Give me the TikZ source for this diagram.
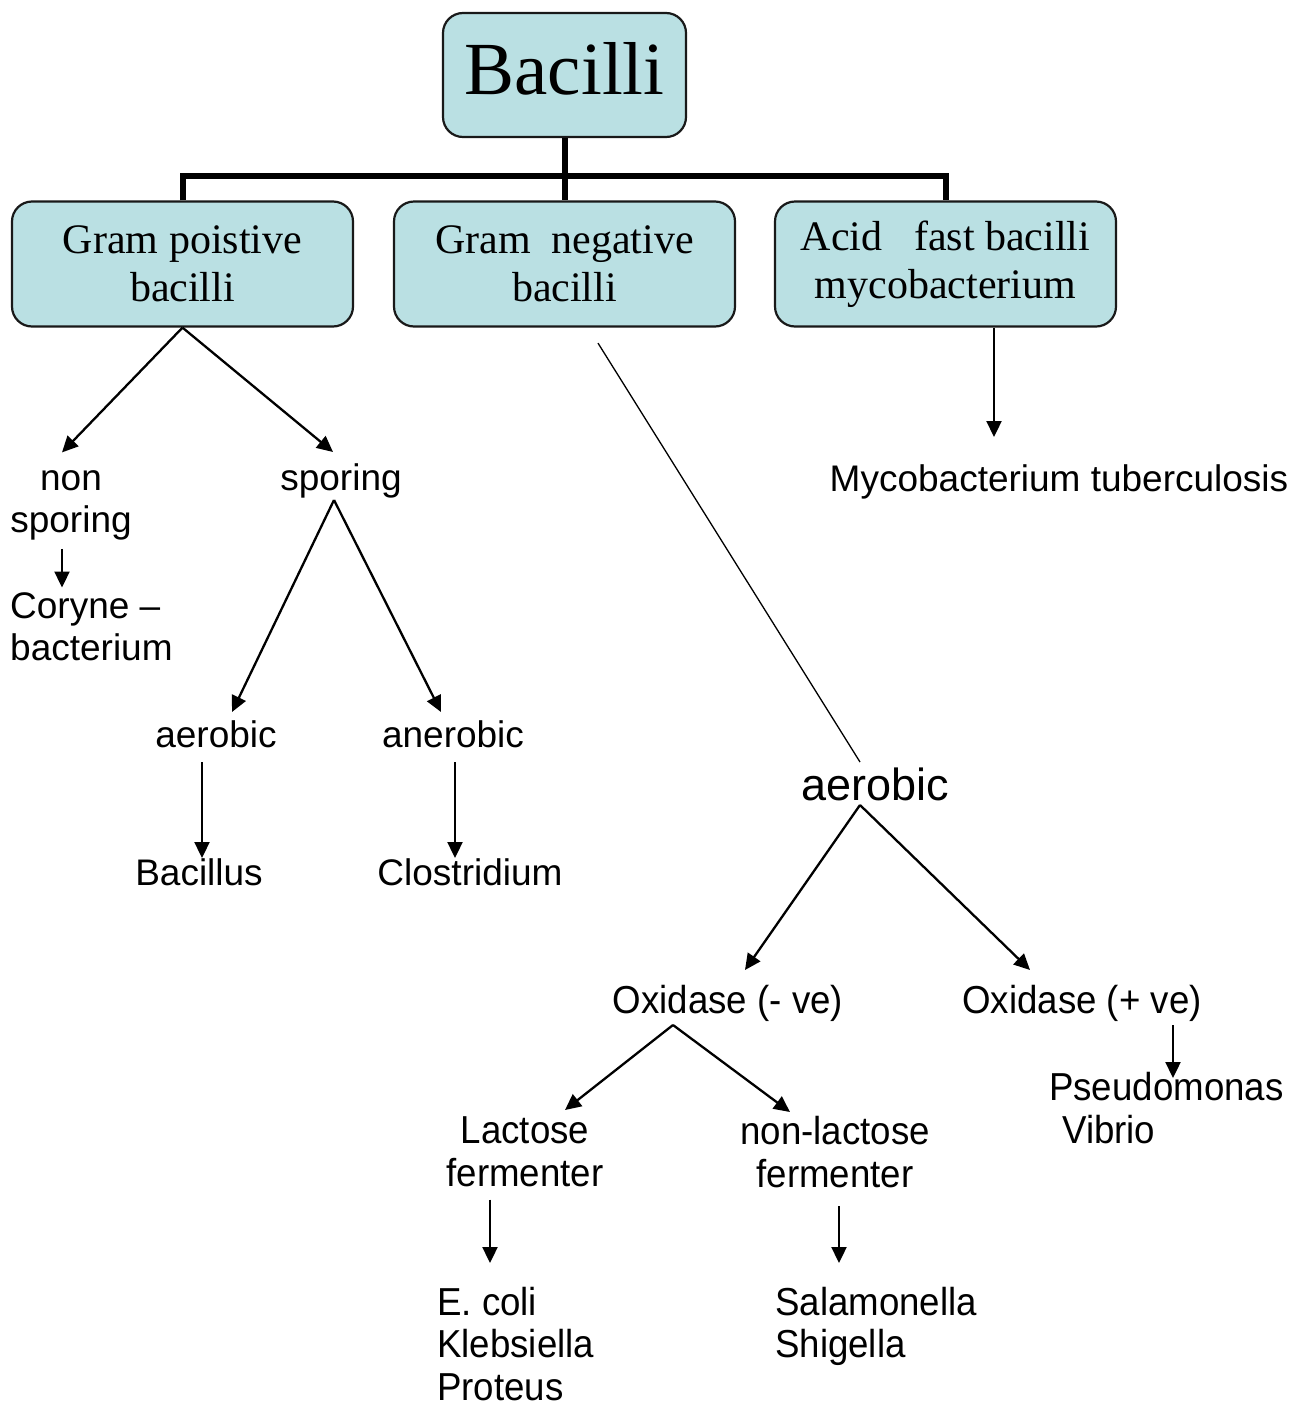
\documentclass[tikz,border=0pt]{standalone}
\usepackage{fontspec}
\setmainfont{Liberation Serif}
\setsansfont{Liberation Sans}
\newfontfamily\narrowsf[FakeStretch=0.94]{Liberation Sans}
\usetikzlibrary{arrows.meta}
\definecolor{boxfill}{RGB}{186,224,227}
\tikzset{
  box/.style={draw=black!90, line width=2.2pt, fill=boxfill, rounded corners=20pt,
    align=center, inner sep=0pt, minimum width=341pt, minimum height=125pt,
    font=\fontsize{42}{48}\selectfont},
  lab/.style={inner sep=0pt, font=\sffamily\fontsize{37}{41.5}\selectfont},
  nlab/.style={inner sep=0pt, font=\narrowsf\fontsize{39}{42.5}\selectfont},
  arr/.style={line width=2.3pt, -{Triangle[length=16pt,width=15pt]}},
  trunk/.style={line width=6pt},
  thinline/.style={line width=1.3pt},
}
\begin{document}
\begin{tikzpicture}[x=1pt,y=-1pt]
\useasboundingbox (0,0) rectangle (1303,1403);
% boxes
\node[box, minimum width=243pt, minimum height=124pt, font=\fontsize{75}{80}\selectfont,
      text height=38pt, text depth=0pt] (bac) at (564.5,75) {Bacilli};
\node[box] (gp) at (182.5,264) {Gram poistive\\bacilli};
\node[box] (gn) at (564.5,264) {Gram\ \ negative\\bacilli};
\node[box] (af) at (945.5,264) {Acid\ \ \ fast bacilli\\mycobacterium};
% trunk
\draw[trunk] (bac.south) -- (gn.north);
\draw[trunk] (gp.north) -- ++(0,-24.5) -| (af.north);
% labels
\node[lab, anchor=north, align=center] (ns) at (71,470.4) {non\\sporing};
\node[lab, anchor=base] (sp) at (341,490) {sporing};
\node[lab, anchor=north west, align=left] (cor) at (10,592.5) {Coryne –\\bacterium};
\node[lab, anchor=base] (aer1) at (216,747) {aerobic};
\node[lab, anchor=base] (ana) at (453,747) {anerobic};
\node[lab, anchor=base] (bcs) at (199,885) {Bacillus};
\node[lab, anchor=base] (clo) at (470,885) {Clostridium};
\node[lab, anchor=base] (myc) at (1059,491) {Mycobacterium tuberculosis};
\node[lab, anchor=base, font=\sffamily\fontsize{45}{50}\selectfont] (aer2) at (875,800) {aerobic};
\node[nlab, anchor=base] (oxn) at (728,1013) {Oxidase (- ve)};
\node[nlab, anchor=base] (oxp) at (1082,1013) {Oxidase (+ ve)};
\node[nlab, anchor=north west, align=left] (pse) at (1049,1072.5) {Pseudomonas\\\hspace*{13pt}Vibrio};
\node[nlab, anchor=north, align=center] (lac) at (525,1116.5) {Lactose\\fermenter};
\node[nlab, anchor=north, align=center] (nlac) at (835,1116.5) {non-lactose\\fermenter};
\node[nlab, anchor=north west, align=left] (eco) at (437,1287) {E. coli\\Klebsiella\\Proteus};
\node[nlab, anchor=north west, align=left] (sal) at (775,1287) {Salamonella\\Shigella};
% connectors
\draw[arr] (gp.south) -- ([shift={(-9,-18)}]ns.north);
\draw[arr] (gp.south) -- ([shift={(-8,-38)}]sp.base);
\draw[arr] ([shift={(-9,9)}]ns.south) -- ([shift={(52,-5)}]cor.north west);
\draw[arr] ([shift={(-7,10)}]sp.base) -- ([shift={(16,-35)}]aer1.base);
\draw[arr] ([shift={(-7,10)}]sp.base) -- ([shift={(-12,-35)}]ana.base);
\draw[arr] ([shift={(-14,15)}]aer1.base) -- ([shift={(3,-27)}]bcs.base);
\draw[arr] ([shift={(2,15)}]ana.base) -- ([shift={(-15,-27)}]clo.base);
\draw[thinline] ([shift={(33.5,15.5)}]gn.south) -- ([shift={(-15,-38)}]aer2.base);
\draw[arr] ([shift={(-15,5)}]aer2.base) -- ([shift={(17,-43)}]oxn.base);
\draw[arr] ([shift={(-15,5)}]aer2.base) -- ([shift={(-52,-43)}]oxp.base);
\draw[arr] ([shift={(91,12)}]oxp.base) -- ([shift={(124,5.5)}]pse.north west);
\draw[arr] ([shift={(-55,12)}]oxn.base) -- ([shift={(40,-6.5)}]lac.north);
\draw[arr] ([shift={(-55,12)}]oxn.base) -- ([shift={(-45,-4.5)}]nlac.north);
\draw[arr] ([shift={(-35,13)}]lac.south) -- ([shift={(53,-24)}]eco.north west);
\draw[arr] ([shift={(4,18)}]nlac.south) -- ([shift={(64,-24)}]sal.north west);
\draw[arr] ([shift={(48.5,0)}]af.south) -- ([shift={(-65,-54)}]myc.base);
\end{tikzpicture}
\end{document}
